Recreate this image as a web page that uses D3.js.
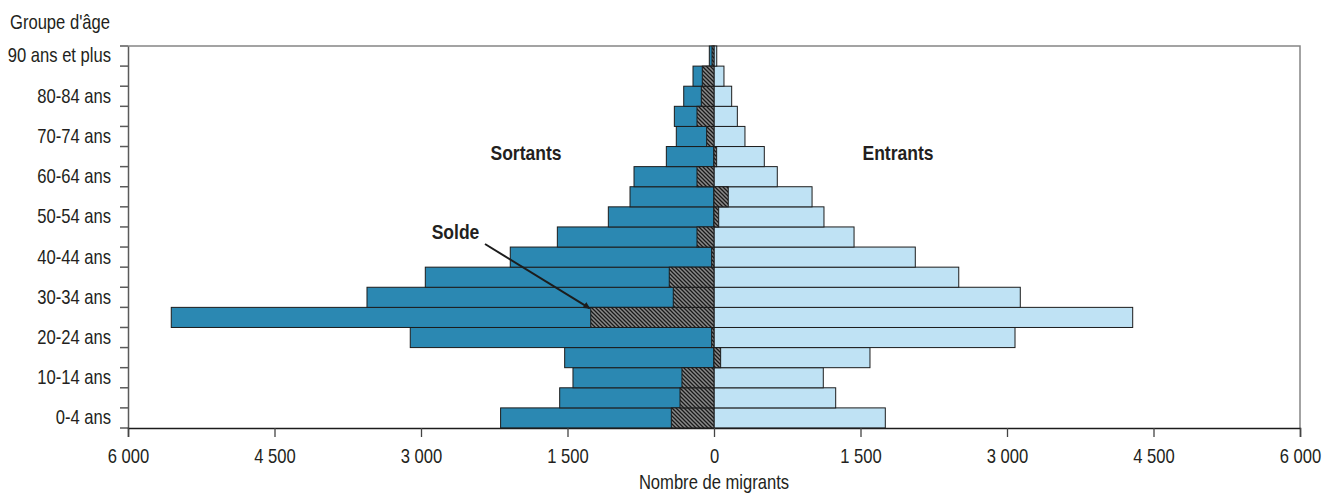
<!DOCTYPE html>
<html>
<head>
<meta charset="utf-8">
<script src="https://cdn.jsdelivr.net/npm/d3@7/dist/d3.min.js"></script>
<style>
  html, body { margin: 0; padding: 0; background: #fff; }
  svg text { font-family: "Liberation Sans", Arial, sans-serif; fill: #231f20; }
</style>
</head>
<body>
<svg id="chart" width="1325" height="494"></svg>
<script>
// ---- Data ----
const ageGroups = ["0-4 ans","5-9 ans","10-14 ans","15-19 ans","20-24 ans","25-29 ans","30-34 ans",
  "35-39 ans","40-44 ans","45-49 ans","50-54 ans","55-59 ans","60-64 ans","65-69 ans","70-74 ans",
  "75-79 ans","80-84 ans","85-89 ans","90 ans et plus"];
const shownLabels = ["0-4 ans","10-14 ans","20-24 ans","30-34 ans","40-44 ans","50-54 ans",
  "60-64 ans","70-74 ans","80-84 ans","90 ans et plus"];
const sortants = [2185, 1580, 1444, 1529, 3110, 5557, 3553, 2956, 2086, 1604, 1082, 860, 819, 488, 386, 406, 310, 215, 48];
const entrants = [1754, 1246, 1119, 1597, 3082, 4287, 3136, 2506, 2061, 1434, 1126, 1004, 648, 515, 317, 239, 181, 102, 28];
const solde    = [-437, -348, -328, 68, -24, -1262, -417, -458, -24, -174, 48, 146, -174, 27, -75, -174, -130, -120, -20];
const xTicks = [-6000, -4500, -3000, -1500, 0, 1500, 3000, 4500, 6000];

// ---- Layout ----
const svg = d3.select("#chart");
const mLeft = 128, mRight = 1300, mTop = 46, mBottom = 428;
const SQ = 0.83; // horizontal condensing of the text (the reference uses a condensed face)

const x = d3.scaleLinear().domain([-6000, 6000]).range([mLeft, mRight]);
const y = d3.scaleBand().domain(ageGroups.slice().reverse()).range([mTop, mBottom]).padding(0);

const fr = d3.formatLocale({decimal: ",", thousands: "\u00a0", grouping: [3], currency: ["", "$"]});
const fmt = fr.format(",d");

function squeeze(sel, k) {
  sel.each(function() {
    const t = d3.select(this);
    const ax = +(t.attr("x") || 0);
    t.attr("transform", `translate(${ax},0) scale(${k},1) translate(${-ax},0)`);
  });
}

// hatch pattern
const defs = svg.append("defs");
const pat = defs.append("pattern").attr("id", "hatch").attr("patternUnits", "userSpaceOnUse")
  .attr("width", 4).attr("height", 4);
pat.append("rect").attr("width", 4).attr("height", 4).attr("fill", "#8a8a8a");
pat.append("path").attr("d", "M0,0 L4,4 M-1,3 L1,5 M3,-1 L5,1")
  .attr("stroke", "#1a1a1a").attr("stroke-width", 1.3);

// frame (top & right, gray)
svg.append("path")
  .attr("d", `M${mLeft},${mTop}H${mRight}V${mBottom}`)
  .attr("fill", "none").attr("stroke", "#858585").attr("stroke-width", 1.5);

const rows = ageGroups.map((g, i) => ({g, s: sortants[i], e: entrants[i], n: solde[i]}));

// Sortants bars
svg.append("g").selectAll("rect").data(rows).join("rect")
  .attr("x", d => x(-d.s)).attr("width", d => x(0) - x(-d.s))
  .attr("y", d => y(d.g)).attr("height", y.bandwidth())
  .attr("fill", "#2b88b2").attr("stroke", "#1c1c1c").attr("stroke-width", 1);

// Entrants bars
svg.append("g").selectAll("rect").data(rows).join("rect")
  .attr("x", x(0)).attr("width", d => x(d.e) - x(0))
  .attr("y", d => y(d.g)).attr("height", y.bandwidth())
  .attr("fill", "#bfe2f4").attr("stroke", "#1c1c1c").attr("stroke-width", 1);

// Solde bars (hatched)
svg.append("g").selectAll("rect").data(rows).join("rect")
  .attr("x", d => x(Math.min(0, d.n))).attr("width", d => Math.abs(x(d.n) - x(0)))
  .attr("y", d => y(d.g)).attr("height", y.bandwidth())
  .attr("fill", "url(#hatch)").attr("stroke", "#1c1c1c").attr("stroke-width", 1);

// Left axis
const yAxis = svg.append("g").attr("transform", `translate(${mLeft},0)`)
  .call(d3.axisLeft(y).tickSize(0).tickPadding(17)
    .tickFormat(d => shownLabels.includes(d) ? d : ""));
yAxis.select(".domain").attr("stroke", "#5a5a5a").attr("stroke-width", 1.5);
yAxis.selectAll("text").style("font-size", "20px").call(squeeze, SQ);
// boundary ticks
const bounds = ageGroups.map(g => y(g)).concat([mBottom]);
svg.append("g").selectAll("line").data(bounds).join("line")
  .attr("x1", mLeft - 8).attr("x2", mLeft).attr("y1", d => d).attr("y2", d => d)
  .attr("stroke", "#5a5a5a").attr("stroke-width", 1.5);

// Bottom axis
const xAxis = svg.append("g").attr("transform", `translate(0,${mBottom})`)
  .call(d3.axisBottom(x).tickValues(xTicks).tickSize(9).tickPadding(12)
    .tickFormat(d => fmt(Math.abs(d))));
xAxis.select(".domain").attr("stroke", "#1c1c1c").attr("stroke-width", 1.5);
xAxis.selectAll(".tick line").attr("stroke", "#444").attr("stroke-width", 1.3);
xAxis.selectAll("text").style("font-size", "20px").call(squeeze, SQ);

// Titles
svg.append("text").attr("x", 10).attr("y", 29).style("font-size", "20px").text("Groupe d'âge").call(squeeze, SQ);
svg.append("text").attr("x", x(0)).attr("y", 489).attr("text-anchor", "middle")
  .style("font-size", "20px").text("Nombre de migrants").call(squeeze, SQ);

// Annotations
svg.append("text").attr("x", 526).attr("y", 160).attr("text-anchor", "middle")
  .style("font-size", "21px").style("font-weight", "bold").text("Sortants").call(squeeze, 0.835);
svg.append("text").attr("x", 898).attr("y", 160).attr("text-anchor", "middle")
  .style("font-size", "21px").style("font-weight", "bold").text("Entrants").call(squeeze, 0.835);
svg.append("text").attr("x", 455.5).attr("y", 239).attr("text-anchor", "middle")
  .style("font-size", "21px").style("font-weight", "bold").text("Solde").call(squeeze, 0.835);

// Arrow to the solde of 25-29
defs.append("marker").attr("id", "arr").attr("viewBox", "0 0 10 10").attr("refX", 9).attr("refY", 5)
  .attr("markerWidth", 7).attr("markerHeight", 7).attr("orient", "auto").attr("markerUnits", "userSpaceOnUse")
  .append("path").attr("d", "M0,0 L10,5 L0,10 Z").attr("fill", "#1c1c1c");
const tgt = rows.find(r => r.g === "25-29 ans");
svg.append("line")
  .attr("x1", 485).attr("y1", 244)
  .attr("x2", x(tgt.n) - 1).attr("y2", y(tgt.g) + 1)
  .attr("stroke", "#1c1c1c").attr("stroke-width", 2)
  .attr("marker-end", "url(#arr)");
</script>
</body>
</html>
